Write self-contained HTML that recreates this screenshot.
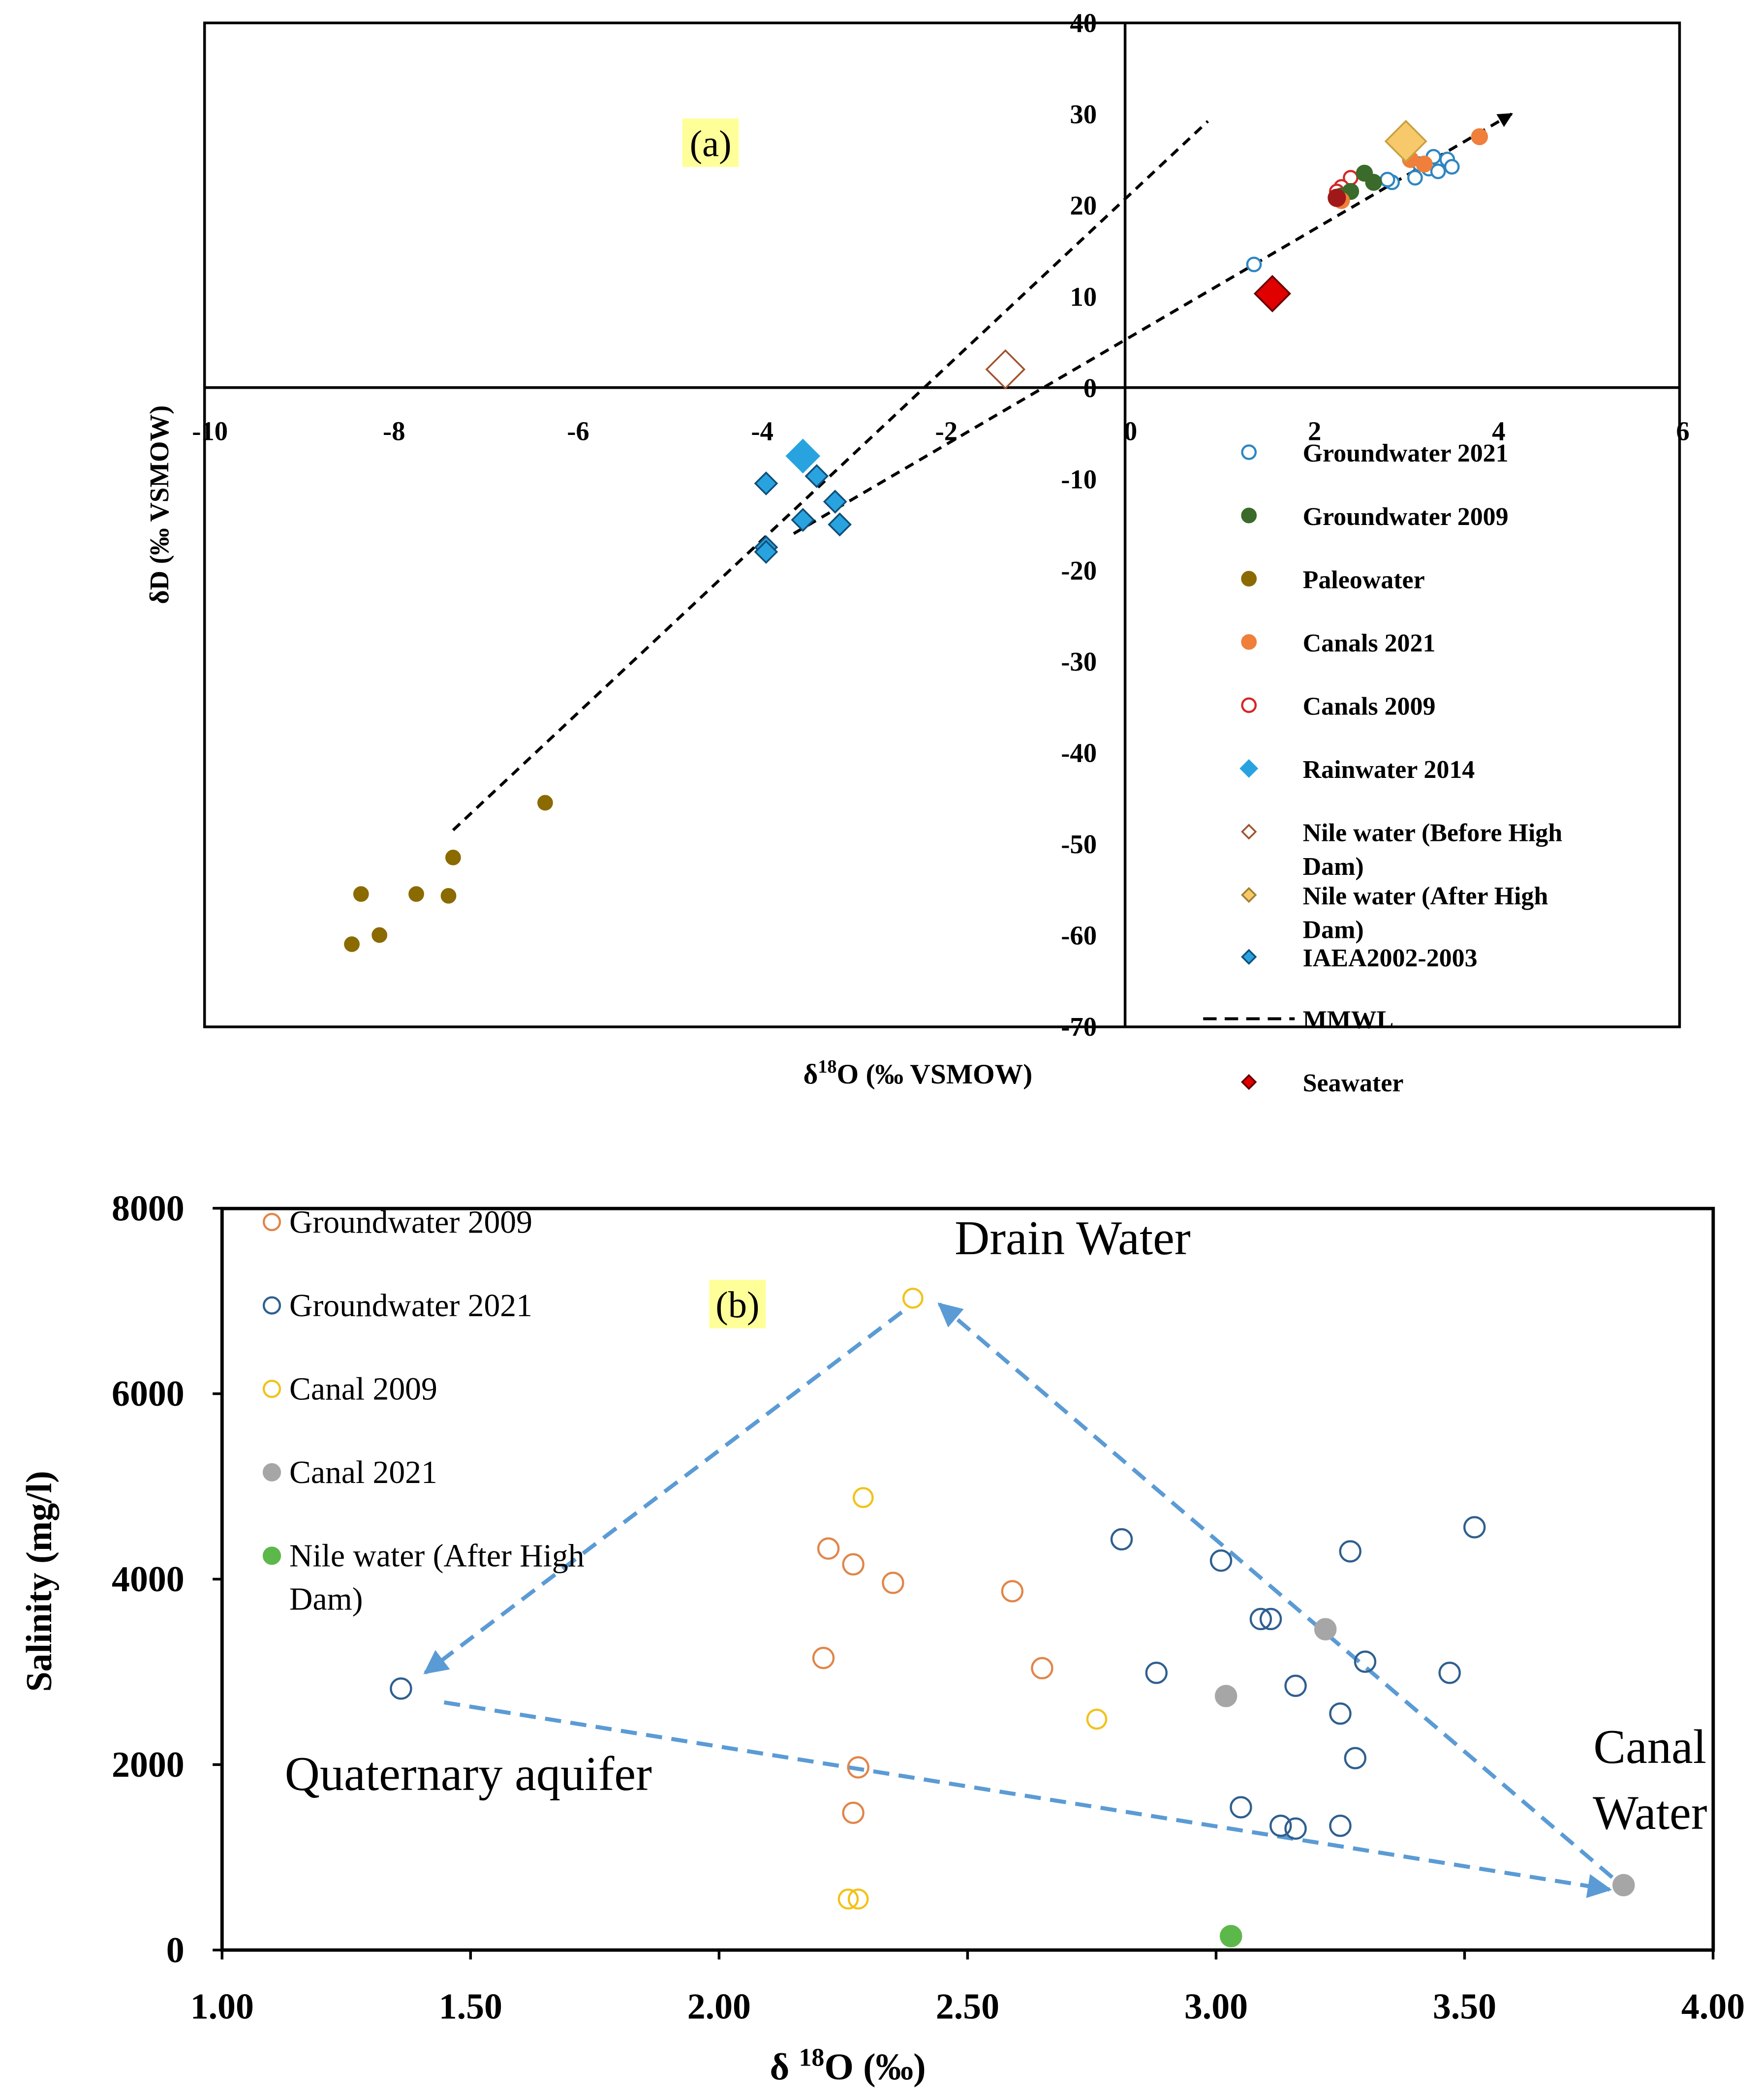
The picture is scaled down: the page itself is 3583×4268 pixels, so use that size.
<!DOCTYPE html>
<html><head><meta charset="utf-8"><style>
html,body{margin:0;padding:0;background:#fff}
svg{display:block}
text{font-family:"Liberation Serif",serif}
</style></head><body>
<svg id="s" width="3583" height="4268" viewBox="0 0 1310 1560.4" xmlns="http://www.w3.org/2000/svg">
<defs>
<marker id="ah" viewBox="0 0 10 10" refX="9" refY="5" markerWidth="6" markerHeight="6" orient="auto"><path d="M0,0L10,5L0,10z" fill="#5b9bd5"/></marker>
<marker id="bk" viewBox="0 0 10 10" refX="9" refY="5" markerWidth="5" markerHeight="5" orient="auto"><path d="M0,0L10,5L0,10z" fill="#000"/></marker>
</defs>
<g id="ga"></g>
<g id="gb"></g>
</svg>
<script>
const NS='http://www.w3.org/2000/svg';
// ---- Panel (a) data ----
const aXTicks=[-10,-8,-6,-4,-2,0,2,4,6];
const aYTicks=[40,30,20,10,0,-10,-20,-30,-40,-50,-60,-70];
const gw21X=[1.4,2.9,2.85,3.15,3.3,3.4,3.5,3.55,3.35,3.2];
const gw21Y=[13.5,22.5,22.8,23,24,23.7,25,24.2,25.3,24.5];
const gw09X=[2.6,2.7,2.45,2.35];
const gw09Y=[23.5,22.5,21.5,21];
const paleoX=[-8.3,-8.1,-8.4,-7.7,-7.35,-7.3,-6.3];
const paleoY=[-55.5,-60,-61,-55.5,-55.7,-51.5,-45.5];
const can21X=[3.85,3.1,3.25,2.35];
const can21Y=[27.5,25,24.5,20.5];
const can09X=[2.45,2.35,2.3];
const can09Y=[23,22,21.5];
const rainX=[-3.9,-3.35,-3.15,-3.1,-3.5,-3.9,-3.9];
const rainY=[-10.5,-9.7,-12.5,-15,-14.5,-17.5,-18];
const iaeaX=[-3.5]; const iaeaY=[-7.5];
const nileBX=[-1.3]; const nileBY=[2];
const nileAX=[3.05]; const nileAY=[27];
const seaX=[1.6]; const seaY=[10.3];
const mmwlX=[-7.3,0.9]; const mmwlY=[-48.5,29.2];
const lmwlX=[-3.6,4.2]; const lmwlY=[-16,30];
const aLegend=['Groundwater 2021','Groundwater 2009','Paleowater','Canals 2021','Canals 2009','Rainwater 2014','Nile water (Before High','Nile water (After High','IAEA2002-2003','MMWL','Seawater'];
// ---- Panel (b) data ----
const bXTicks=[1.00,1.50,2.00,2.50,3.00,3.50,4.00];
const bYTicks=[0,2000,4000,6000,8000];
const bGw09X=[2.22,2.27,2.35,2.59,2.21,2.65,2.28,2.27];
const bGw09Y=[4330,4160,3960,3870,3150,3040,1970,1480];
const bGw21X=[1.36,2.81,3.01,3.27,3.52,3.09,3.11,2.88,3.30,3.47,3.16,3.25,3.28,3.05,3.13,3.16,3.25];
const bGw21Y=[2820,4430,4200,4300,4560,3570,3570,2990,3110,2990,2850,2550,2070,1540,1340,1310,1340];
const bCan09X=[2.39,2.29,2.76,2.26,2.28];
const bCan09Y=[7030,4880,2490,550,550];
const bCan21X=[3.22,3.02,3.82];
const bCan21Y=[3460,2740,700];
const bNileX=[3.03]; const bNileY=[150];

const ax=v=>836+v*68.4, ay=v=>288-v*6.78;
const bx=v=>165+(v-1)*369.3, by=v=>1449-v*0.0689;

function mk(tag,at,parent,txt){const e=document.createElementNS(NS,tag);for(const k in at)e.setAttribute(k,at[k]);if(txt!==undefined)e.textContent=txt;parent.appendChild(e);return e;}
const A=document.getElementById('ga'), B=document.getElementById('gb');
function circ(p,x,y,r,fill,stroke,name){const e=mk('circle',{cx:x,cy:y,r:r,fill:fill,stroke:stroke,'stroke-width':1.6},p);

return e;}
function dia(p,x,y,r,fill,stroke,name){const e=mk('path',{d:`M${x},${y-r}L${x+r},${y}L${x},${y+r}L${x-r},${y}Z`,fill:fill,stroke:stroke,'stroke-width':1.3},p);

return e;}
function txt(p,x,y,s,at,name){const e=mk('text',Object.assign({x:x,y:y},at),p,s);

return e;}

// Panel a frame & axes
let fr=mk('rect',{x:152,y:17,width:1096,height:746,fill:'none',stroke:'#000','stroke-width':2},A);


let l1=mk('line',{x1:152,y1:ay(0),x2:1248,y2:ay(0),stroke:'#000','stroke-width':2},A);


let l2=mk('line',{x1:ax(0),y1:17,x2:ax(0),y2:763,stroke:'#000','stroke-width':2},A);


aXTicks.forEach(t=>{txt(A,ax(t)+4,327,String(t),{'font-size':20,'font-weight':'bold','text-anchor':'middle'},'x-tick-label-a');});
aYTicks.forEach(t=>{txt(A,815,ay(t)+7,String(t),{'font-size':20,'font-weight':'bold','text-anchor':'end'},'y-tick-label-a');});
// lines
let m1=mk('line',{x1:ax(mmwlX[0]),y1:ay(mmwlY[0]),x2:ax(mmwlX[1]),y2:ay(mmwlY[1]),stroke:'#000','stroke-width':2.2,'stroke-dasharray':'7,5'},A);


let m2=mk('line',{x1:ax(lmwlX[0]),y1:ay(lmwlY[0]),x2:ax(lmwlX[1]),y2:ay(lmwlY[1]),stroke:'#000','stroke-width':2.2,'stroke-dasharray':'7,5','marker-end':'url(#bk)'},A);


paleoX.forEach((x,i)=>circ(A,ax(x),ay(paleoY[i]),5,'#8b6a00','#8b6a00','paleowater-point'));
rainX.forEach((x,i)=>dia(A,ax(x),ay(rainY[i]),8,'#29a3e0','#10507a','rainwater-point'));
iaeaX.forEach((x,i)=>dia(A,ax(x),ay(iaeaY[i]),12,'#29a3e0','#29a3e0','iaea-point'));
nileBX.forEach((x,i)=>dia(A,ax(x),ay(nileBY[i]),14,'#fff','#a0522d','nile-before-point'));
seaX.forEach((x,i)=>dia(A,ax(x),ay(seaY[i]),13,'#e00000','#600','seawater-point'));
gw21X.forEach((x,i)=>circ(A,ax(x),ay(gw21Y[i]),5,'#fff','#2e86c1','groundwater-2021-point'));
can09X.forEach((x,i)=>circ(A,ax(x),ay(can09Y[i]),5,'#fff','#d62728','canals-2009-point'));
gw09X.forEach((x,i)=>circ(A,ax(x),ay(gw09Y[i]),5.5,'#3a6b2a','#3a6b2a','groundwater-2009-point'));
can21X.forEach((x,i)=>circ(A,ax(x),ay(can21Y[i]),5.5,'#ef7f3a','#ef7f3a','canals-2021-point'));
circ(A,ax(2.3),ay(20.8),6,'#a01818','#a01818','canals-point');
nileAX.forEach((x,i)=>dia(A,ax(x),ay(nileAY[i]),15,'#f7c96a','#c9a040','nile-after-point'));
let hl=mk('rect',{x:507,y:88,width:42,height:36,fill:'#ffff99'},A);


txt(A,528,116,'(a)',{'font-size':28,'text-anchor':'middle','font-family':'Liberation Sans, sans-serif'},'panel-label-a');
txt(A,0,0,'δD (‰ VSMOW)',{'font-size':20,'font-weight':'bold','text-anchor':'middle',transform:'translate(125,375) rotate(-90)'},'y-axis-title-a');
let xt=txt(A,682,805,'',{'font-size':21,'font-weight':'bold','text-anchor':'middle','font-family':'Liberation Sans, sans-serif'},'x-axis-title-a');
xt.innerHTML='δ<tspan dy="-8" font-size="14">18</tspan><tspan dy="8">O (‰ VSMOW)</tspan>';
// legend a
const lyA=[336,383,430,477,524,571,618,665,711,757,804];
lyA.forEach((y,i)=>{
 const x=928;
 if(i==0)circ(A,x,y,5,'#fff','#2e86c1','legend-marker');
 else if(i==1)circ(A,x,y,5,'#3a6b2a','#3a6b2a','legend-marker');
 else if(i==2)circ(A,x,y,5,'#8b6a00','#8b6a00','legend-marker');
 else if(i==3)circ(A,x,y,5,'#ef7f3a','#ef7f3a','legend-marker');
 else if(i==4)circ(A,x,y,5,'#fff','#d62728','legend-marker');
 else if(i==5)dia(A,x,y,6,'#29a3e0','#29a3e0','legend-marker');
 else if(i==6)dia(A,x,y,5,'#fff','#a0522d','legend-marker');
 else if(i==7)dia(A,x,y,5,'#f7c96a','#a08030','legend-marker');
 else if(i==8)dia(A,x,y,5,'#29a3e0','#10507a','legend-marker');
 else if(i==9){let d=mk('line',{x1:894,y1:y,x2:962,y2:y,stroke:'#000','stroke-width':2.2,'stroke-dasharray':'10,6'},A);
  
  }
 else dia(A,x,y,5,'#e00000','#600','legend-marker');
 txt(A,968,y+7,aLegend[i],{'font-size':19,'font-weight':'bold'},'legend-entry-a');
 if(i==6||i==7)txt(A,968,y+32,'Dam)',{'font-size':19,'font-weight':'bold'},'legend-entry-a-cont');
});

// Panel b
let fb=mk('rect',{x:165,y:898,width:1108,height:551,fill:'none',stroke:'#000','stroke-width':2.5},B);


bXTicks.forEach(t=>{txt(B,bx(t),1500,t.toFixed(2),{'font-size':27,'font-weight':'bold','text-anchor':'middle'},'x-tick-label-b');
 let k=mk('line',{x1:bx(t),y1:1449,x2:bx(t),y2:1456,stroke:'#000','stroke-width':2},B);
 
 });
bYTicks.forEach(t=>{txt(B,137,by(t)+9,String(t),{'font-size':27,'font-weight':'bold','text-anchor':'end'},'y-tick-label-b');
 let k=mk('line',{x1:158,y1:by(t),x2:165,y2:by(t),stroke:'#000','stroke-width':2},B);
 
 });
let xb=txt(B,630,1545,'',{'font-size':28,'font-weight':'bold','text-anchor':'middle'},'x-axis-title-b');
xb.innerHTML='δ <tspan dy="-10" font-size="19">18</tspan><tspan dy="10">O (‰)</tspan>';
txt(B,0,0,'Salinity (mg/l)',{'font-size':27,'font-weight':'bold','text-anchor':'middle',transform:'translate(38,1175) rotate(-90)'},'y-axis-title-b');
function arr(x1,y1,x2,y2,name){let e=mk('line',{x1:x1,y1:y1,x2:x2,y2:y2,stroke:'#5b9bd5','stroke-width':3,'stroke-dasharray':'12,7','marker-end':'url(#ah)'},B);
 
 }
arr(670,975,316,1243,'arrow-drain-to-aquifer');
arr(1198,1395,698,969,'arrow-canal-to-drain');
arr(330,1265,1196,1404,'arrow-aquifer-to-canal');
bGw09X.forEach((x,i)=>circ(B,bx(x),by(bGw09Y[i]),7.5,'none','#e0864a','groundwater-2009-point'));
bGw21X.forEach((x,i)=>circ(B,bx(x),by(bGw21Y[i]),7.5,'none','#2f5f8f','groundwater-2021-point'));
bCan09X.forEach((x,i)=>circ(B,bx(x),by(bCan09Y[i]),7,'none','#f2c21a','canal-2009-point'));
bCan21X.forEach((x,i)=>circ(B,bx(x),by(bCan21Y[i]),7.5,'#a6a6a6','#a6a6a6','canal-2021-point'));
bNileX.forEach((x,i)=>circ(B,bx(x),by(bNileY[i]),7.5,'#5cb84a','#5cb84a','nile-after-point'));
let hb=mk('rect',{x:527,y:951,width:42,height:36,fill:'#ffff99'},B);


txt(B,548,979,'(b)',{'font-size':28,'text-anchor':'middle','font-family':'Liberation Sans, sans-serif'},'panel-label-b');
txt(B,797,932,'Drain  Water',{'font-size':36,'text-anchor':'middle'},'drain-water-label');
txt(B,348,1330,'Quaternary  aquifer',{'font-size':36,'text-anchor':'middle'},'quaternary-aquifer-label');
txt(B,1226,1310,'Canal',{'font-size':36,'text-anchor':'middle'},'canal-label');
txt(B,1226,1359,'Water',{'font-size':36,'text-anchor':'middle'},'canal-water-label');
const bLegend=['Groundwater 2009','Groundwater 2021','Canal  2009','Canal 2021','Nile water (After High'];
const bLegCol=[['none','#e0864a'],['none','#2f5f8f'],['none','#f2c21a'],['#a6a6a6','#a6a6a6'],['#5cb84a','#5cb84a']];
[908,970,1032,1094,1156].forEach((y,i)=>{circ(B,202,y,6,bLegCol[i][0],bLegCol[i][1],'legend-marker-b');
 txt(B,215,y+8,bLegend[i],{'font-size':24},'legend-entry-b');});
txt(B,215,1196,'Dam)',{'font-size':24},'legend-entry-b-cont');
</script>
</body></html>
